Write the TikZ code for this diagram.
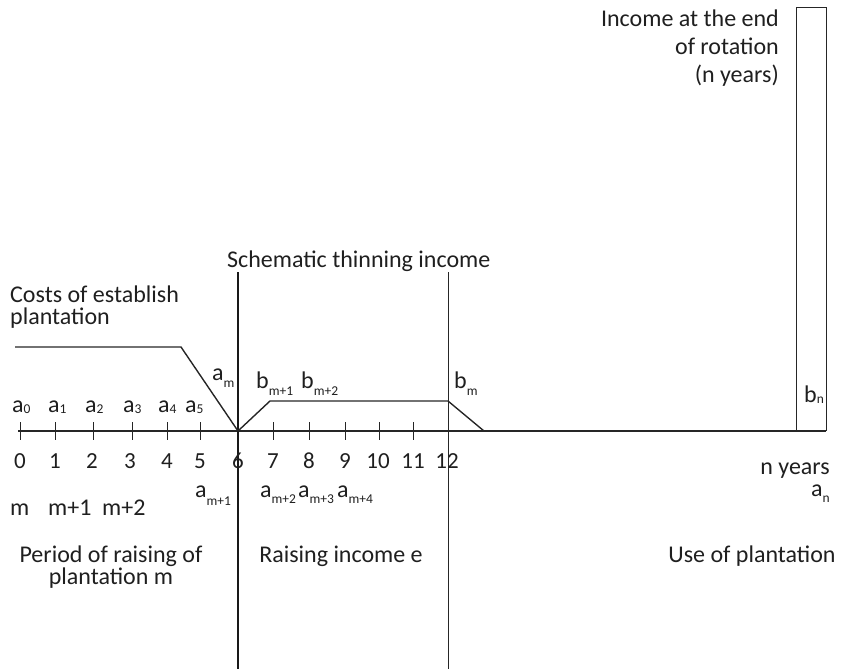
\documentclass[tikz,border=0pt]{standalone}
\usepackage{fontspec}
\setmainfont{Carlito}
\newcommand\mysub[2][-4pt]{\raisebox{#1}{\fontsize{13.5}{13.5}\selectfont #2}}
\begin{document}
\begin{tikzpicture}[x=1pt,y=-1pt,
  lbl/.style={inner sep=0pt,font=\fontsize{24}{21}\selectfont,text=black!88},
  digit/.style={lbl,font=\fontsize{23}{23}\selectfont},
  axisline/.style={line width=2pt,draw=black!85},
  curve/.style={line width=1.4pt,draw=black!85},
  thickv/.style={line width=2.8pt,draw=black!90},
  thinv/.style={line width=1pt,draw=black!85},
  tickmark/.style={line width=1pt,draw=black!85}]
\useasboundingbox (0,0) rectangle (844,669);
% axis
\coordinate (ax0) at (18,431);
\coordinate (ax1) at (826,431);
\draw[axisline] (ax0) -- (ax1);
\foreach \x in {20,55,93,132,167,200,273,309,345,379,413}
  \draw[tickmark] (\x,422) -- (\x,440);
% vertical lines
\coordinate (v6t) at (238,272); \coordinate (v6b) at (238,669);
\coordinate (v12t) at (448,272); \coordinate (v12b) at (448,669);
\draw[thickv] (v6t) -- (v6b);
\draw[thinv] (v12t) -- (v12b);
% final income box
\node[draw=black!85,line width=1pt,minimum width=30pt,minimum height=423pt,inner sep=0pt,anchor=south west] (box) at (796,431) {};
% cost line
\coordinate (c0) at (15,347); \coordinate (c1) at (181,347); \coordinate (c2) at (238,431);
\draw[curve] (c0) -- (c1) -- (c2);
% benefit line
\coordinate (b1) at (270,401); \coordinate (b2) at (448,401); \coordinate (b3) at (484,431);
\draw[curve] (c2) -- (b1) -- (b2) -- (b3);
% top labels
\node[lbl,font=\fontsize{24}{28}\selectfont,anchor=base east] (inc) at (779,27)
  {\begin{tabular}[t]{@{}r@{}}Income at the end\\ of rotation\\ (n years)\end{tabular}};
\node[lbl,anchor=base west] (sch) at (227,267) {Schematic thinning income};
\node[lbl,anchor=base west] (cost) at (10,302)
  {\begin{tabular}[t]{@{}l@{}}Costs of establish\\ plantation\end{tabular}};
% a labels
\node[lbl,anchor=base west] (a0) at (12,412) {a\mysub[-1pt]{0}};
\node[lbl,anchor=base west] (a1) at (48,412) {a\mysub[-1pt]{1}};
\node[lbl,anchor=base west] (a2) at (85,412) {a\mysub[-1pt]{2}};
\node[lbl,anchor=base west] (a3) at (123,412) {a\mysub[-1pt]{3}};
\node[lbl,anchor=base west] (a4) at (158,412) {a\mysub[-1pt]{4}};
\node[lbl,anchor=base west] (a5) at (185,412) {a\mysub[-1pt]{5}};
\node[lbl,anchor=base west] (am) at (212,380) {a\mysub[-7pt]{m}};
\node[lbl,anchor=base west] (bm1) at (256,388) {b\mysub[-7pt]{m+1}};
\node[lbl,anchor=base west] (bm2) at (301,388) {b\mysub[-7pt]{m+2}};
\node[lbl,anchor=base west] (bm) at (454,388) {b\mysub[-7pt]{m}};
\node[lbl,anchor=base west] (bn) at (804,402) {b\mysub[-1pt]{n}};
% digits
\foreach \x/\d [count=\i] in {20/0,55/1,92/2,130/3,167/4,200/5,238/6,273/7,309/8,345/9,378/10,413/11,447/12}
  \node[digit,anchor=base] (d\i) at (\x,468) {\d};
\node[lbl,font=\fontsize{24}{22}\selectfont,anchor=base east] (ny) at (830,474)
  {\begin{tabular}[t]{@{}r@{}}n years\\ a\mysub[-6pt]{n}\end{tabular}};
\node[lbl,anchor=base west] (am1) at (195,497) {a\mysub[-8pt]{m+1}};
\node[lbl,anchor=base west] (am2) at (260,497) {a\mysub[-6pt]{m+2}};
\node[lbl,anchor=base west] (am3) at (298,497) {a\mysub[-6pt]{m+3}};
\node[lbl,anchor=base west] (am4) at (337,497) {a\mysub[-6pt]{m+4}};
\node[lbl,anchor=base west] (m0) at (10,515) {m};
\node[lbl,anchor=base west] (m1) at (48,515) {m+1};
\node[lbl,anchor=base west] (m2) at (102,515) {m+2};
% bottom labels
\node[lbl,anchor=base] (per) at (111,562)
  {\begin{tabular}[t]{@{}c@{}}Period of raising of\\ plantation m\end{tabular}};
\node[lbl,anchor=base] (rai) at (341,562) {Raising income e};
\node[lbl,anchor=base] (use) at (752,562) {Use of plantation};
\end{tikzpicture}
\end{document}
